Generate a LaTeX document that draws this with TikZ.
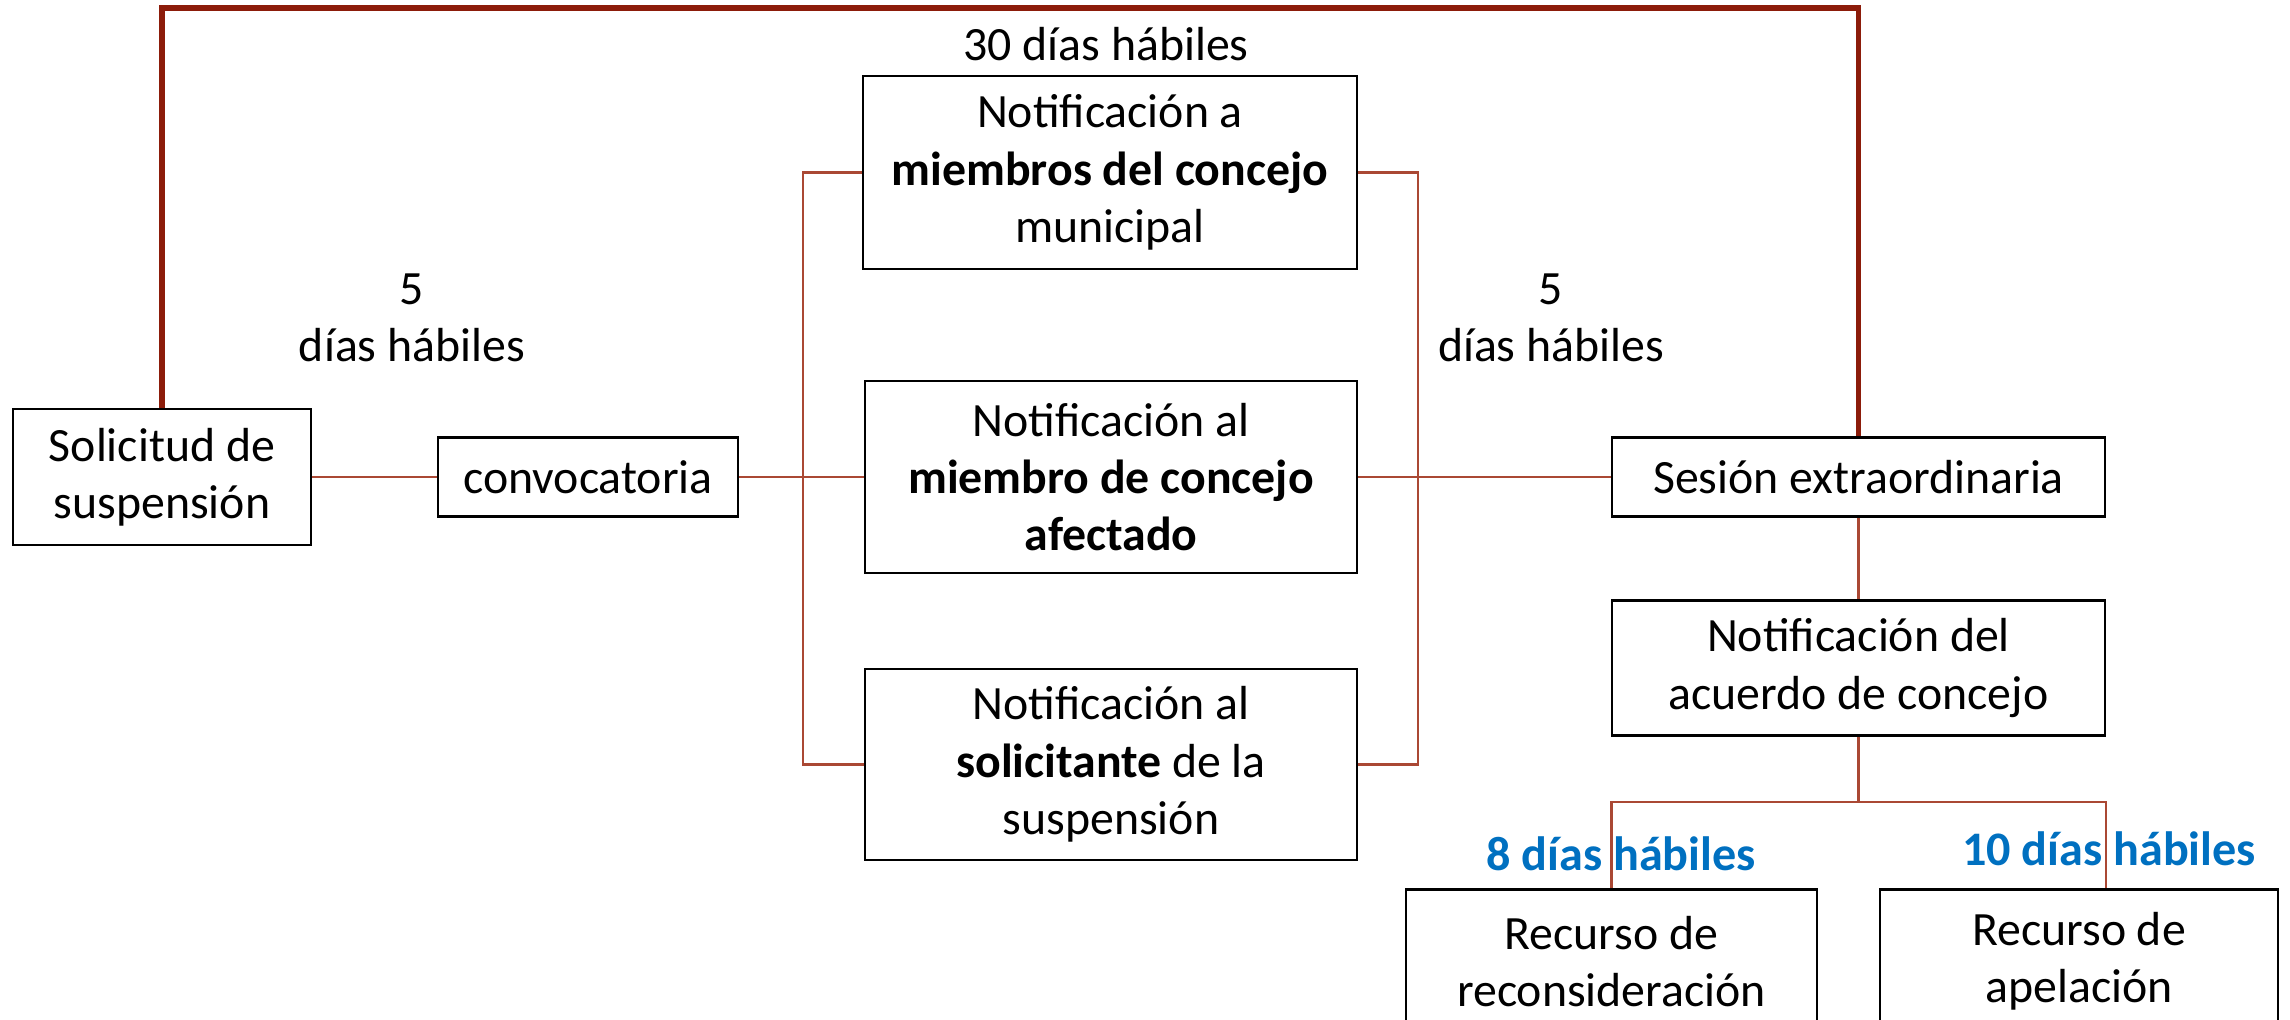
\documentclass[tikz,border=0pt]{standalone}
\usepackage{fontspec}
\setmainfont{Carlito}
\definecolor{darkc}{RGB}{140,28,10}
\definecolor{connc}{RGB}{170,72,52}
\definecolor{bluec}{RGB}{0,112,192}
\begin{document}
\begin{tikzpicture}[
  box/.style={draw=black, line width=0.8pt, align=center, inner sep=0pt, fill=white,
    font=\fontsize{13.6}{16.3}\selectfont},
  conn/.style={draw=connc, line width=0.6pt},
  thickline/.style={draw=darkc, line width=1.6pt},
  lbl/.style={align=center, inner sep=0pt, font=\fontsize{13.6}{16.3}\selectfont},
  blbl/.style={align=center, inner sep=0pt, text=bluec, font=\bfseries\fontsize{13.7}{16.3}\selectfont}]
\useasboundingbox (0,0) rectangle (22.90,-10.20);
% nodes
\node[box, minimum width=2.98cm, minimum height=1.36cm] (sol) at (1.62,-4.77) {Solicitud de\\suspensión};
\node[box, minimum width=3.00cm, minimum height=0.79cm] (conv) at (5.88,-4.77) {convocatoria};
\node[box, minimum width=4.94cm, minimum height=1.93cm] (n1) at (11.10,-1.725) {Notificación a\\\textbf{miembros del concejo}\\municipal};
\node[box, minimum width=4.92cm, minimum height=1.92cm] (n2) at (11.11,-4.77) {Notificación al\\\textbf{miembro de concejo}\\\textbf{afectado}};
\node[box, minimum width=4.92cm, minimum height=1.91cm] (n3) at (11.11,-7.645) {Notificación al\\\textbf{solicitante} de la\\suspensión};
\node[box, minimum width=4.93cm, minimum height=0.79cm] (ses) at (18.585,-4.77) {Sesión extraordinaria};
\node[box, minimum width=4.93cm, minimum height=1.35cm] (acu) at (18.585,-6.68) {Notificación del\\acuerdo de concejo};
\node[box, anchor=north, minimum width=4.11cm, minimum height=1.44cm] (rr) at (16.115,-8.88) {Recurso de\\reconsideración};
\node[box, anchor=north, minimum width=3.98cm, minimum height=1.44cm] (ra) at (20.79,-8.88) {Recurso de\\apelación};
% labels
\node[lbl] (l30) at (11.06,-0.44) {30 días hábiles};
\node[lbl] (l5a) at (4.12,-3.18) {5\\días hábiles};
\node[lbl] (l5b) at (15.51,-3.18) {5\\días hábiles};
\node[blbl] (l8) at (16.21,-8.54) {8 días hábiles};
\node[blbl] (l10) at (21.09,-8.49) {10 días hábiles};
% helper coordinates
\coordinate (topline) at (0,-0.08);
\coordinate (busL) at (8.03,0);
\coordinate (busR) at (14.18,0);
\coordinate (fork) at (18.585,-8.02);
% thick loop
\draw[thickline] (sol.north) -- (sol.north |- topline) -| (ses.north);
% connectors
\draw[conn] (sol.east) -- (conv.west);
\draw[conn] (conv.east) -- (n2.west);
\draw[conn] (n1.west) -- (n1.west -| busL) -- (n3.west -| busL) -- (n3.west);
\draw[conn] (n1.east) -- (n1.east -| busR) -- (n3.east -| busR) -- (n3.east);
\draw[conn] (n2.east) -- (ses.west);
\draw[conn] (ses.south) -- (acu.north);
\draw[conn] (acu.south) -- (fork);
\draw[conn] (rr.north) |- (fork) -| (acu.east |- ra.north);
\end{tikzpicture}
\end{document}
